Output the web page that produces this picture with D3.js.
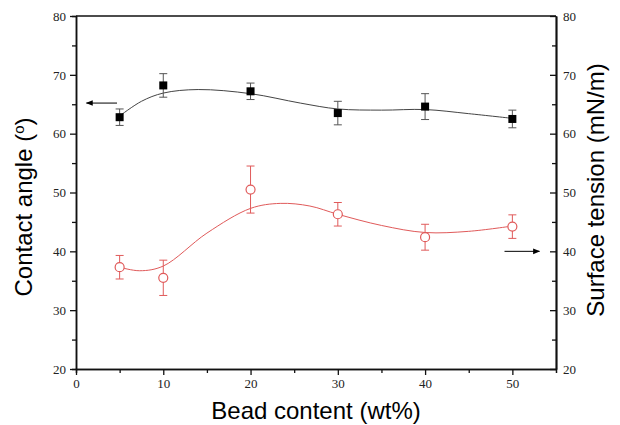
<!DOCTYPE html>
<html>
<head>
<meta charset="utf-8">
<script src="https://cdn.jsdelivr.net/npm/d3@7"></script>
<style>
  body { margin: 0; background: #fff; }
  .tick text { font-family: "Liberation Serif", "Times New Roman", serif; font-size: 13px; fill: #222; }
  .title { font-family: "Liberation Sans", Arial, sans-serif; font-size: 24px; fill: #000; }
</style>
</head>
<body>
<div id="chart"></div>
<script>
// bead content (wt%)
var beadContent = [5, 10, 20, 30, 40, 50];

// contact angle (deg) and its error
var contactAngle = [62.8, 68.2, 67.2, 63.5, 64.6, 62.5];
var contactErr = [1.4, 2.0, 1.4, 2.0, 2.2, 1.5];

// surface tension (mN/m) and its error
var surfTension = [37.3, 35.5, 50.5, 46.3, 42.4, 44.2];
var surfErr = [2.0, 3.0, 4.0, 2.0, 2.2, 2.0];

// fitted curves
var contactFitX = [5, 7.5, 10, 14, 20, 25.7, 30, 35, 40, 45, 50];
var contactFitY = [63.0, 65.5, 66.9, 67.5, 66.8, 65.2, 64.2, 64.0, 64.1, 63.4, 62.6];
var surfFitX = [5, 7.3, 10, 15, 20, 23.4, 26.8, 30, 35, 40, 45, 50];
var surfFitY = [37.3, 36.7, 37.5, 43.1, 47.3, 48.15, 47.7, 46.3, 44.4, 43.2, 43.4, 44.3];

var xTicks = [0, 10, 20, 30, 40, 50];
var yTicks = [20, 30, 40, 50, 60, 70, 80];

var width = 620, height = 425;
var padL = 76, padR = 556, padT = 16, padB = 369;
var red = "#e05a5a";

var svg = d3.select("#chart").append("svg")
  .attr("width", width)
  .attr("height", height);

var x = d3.scaleLinear().domain([0, 55]).range([padL, padR]);
var y = d3.scaleLinear().domain([20, 80]).range([padB, padT]);

// arrowhead
svg.append("defs").append("marker")
  .attr("id", "head")
  .attr("viewBox", "0 0 10 10")
  .attr("refX", 9).attr("refY", 5)
  .attr("markerWidth", 9).attr("markerHeight", 7)
  .attr("markerUnits", "userSpaceOnUse")
  .attr("orient", "auto")
  .append("path").attr("d", "M0,1 L10,5 L0,9 Z").attr("fill", "#000");

// frame top line
svg.append("line")
  .attr("x1", padL).attr("x2", padR).attr("y1", padT).attr("y2", padT)
  .attr("stroke", "#111").attr("stroke-width", 1.5);

// Axes
function styleAxis(g) {
  g.select(".domain").attr("stroke", "#111").attr("stroke-width", 1.5);
  g.selectAll(".tick line").attr("stroke", "#111").attr("stroke-width", 1.3);
}

// minor ticks
var minor = d3.range(5, 55, 10);
var minorY = d3.range(25, 80, 10);

svg.append("g")
  .attr("transform", "translate(0," + padB + ")")
  .call(d3.axisBottom(x).tickValues(minor).tickSize(4).tickFormat(""))
  .call(styleAxis);
svg.append("g")
  .attr("transform", "translate(0," + padB + ")")
  .call(d3.axisBottom(x).tickValues(xTicks).tickSize(6).tickSizeOuter(0).tickPadding(4).tickFormat(d3.format("d")))
  .call(styleAxis);

svg.append("g")
  .attr("transform", "translate(" + padL + ",0)")
  .call(d3.axisLeft(y).tickValues(minorY).tickSize(4).tickFormat(""))
  .call(styleAxis);
svg.append("g")
  .attr("transform", "translate(" + padL + ",0)")
  .call(d3.axisLeft(y).tickValues(yTicks).tickSize(6).tickSizeOuter(0).tickPadding(4).tickFormat(d3.format("d")))
  .call(styleAxis);

svg.append("g")
  .attr("transform", "translate(" + padR + ",0)")
  .call(d3.axisRight(y).tickValues(yTicks).tickSize(0).tickSizeOuter(0).tickPadding(7).tickFormat(d3.format("d")))
  .call(styleAxis);
svg.append("g")
  .attr("transform", "translate(" + padR + ",0)")
  .call(d3.axisLeft(y).tickValues(yTicks).tickSize(6).tickSizeOuter(0).tickFormat(""))
  .call(styleAxis);
svg.append("g")
  .attr("transform", "translate(" + padR + ",0)")
  .call(d3.axisLeft(y).tickValues(minorY).tickSize(4).tickSizeOuter(0).tickFormat(""))
  .call(styleAxis);

// fitted curves
var line = d3.line().curve(d3.curveCatmullRom.alpha(0.5))
  .x(function(d) { return x(d[0]); })
  .y(function(d) { return y(d[1]); });

svg.append("path")
  .datum(d3.zip(contactFitX, contactFitY))
  .attr("d", line)
  .attr("fill", "none").attr("stroke", "#444").attr("stroke-width", 1);

svg.append("path")
  .datum(d3.zip(surfFitX, surfFitY))
  .attr("d", line)
  .attr("fill", "none").attr("stroke", red).attr("stroke-width", 1);

// error bars
function errorBars(vals, errs, color) {
  var g = svg.append("g").attr("stroke", color).attr("stroke-width", 1);
  beadContent.forEach(function(b, i) {
    var cx = x(b);
    var y1 = y(vals[i] + errs[i]), y2 = y(vals[i] - errs[i]);
    g.append("line").attr("x1", cx).attr("x2", cx).attr("y1", y1).attr("y2", y2);
    g.append("line").attr("x1", cx - 4).attr("x2", cx + 4).attr("y1", y1).attr("y2", y1);
    g.append("line").attr("x1", cx - 4).attr("x2", cx + 4).attr("y1", y2).attr("y2", y2);
  });
}
errorBars(contactAngle, contactErr, "#555");
errorBars(surfTension, surfErr, red);

// markers
svg.append("g").selectAll("rect")
  .data(beadContent)
  .enter().append("rect")
  .attr("x", function(d) { return x(d) - 4; })
  .attr("y", function(d, i) { return y(contactAngle[i]) - 4; })
  .attr("width", 8).attr("height", 8)
  .attr("fill", "#000");

svg.append("g").selectAll("circle")
  .data(beadContent)
  .enter().append("circle")
  .attr("cx", function(d) { return x(d); })
  .attr("cy", function(d, i) { return y(surfTension[i]); })
  .attr("r", 4.5)
  .attr("fill", "#fff").attr("stroke", red).attr("stroke-width", 1.2);

// arrows pointing at the axes
svg.append("line")
  .attr("x1", x(4.7)).attr("x2", x(1.2))
  .attr("y1", y(65.2)).attr("y2", y(65.2))
  .attr("stroke", "#000").attr("stroke-width", 1)
  .attr("marker-end", "url(#head)");
svg.append("line")
  .attr("x1", x(49.1)).attr("x2", x(53.1))
  .attr("y1", y(40.0)).attr("y2", y(40.0))
  .attr("stroke", "#000").attr("stroke-width", 1)
  .attr("marker-end", "url(#head)");

// titles
svg.append("text").attr("class", "title")
  .attr("x", 316).attr("y", 419)
  .attr("text-anchor", "middle")
  .text("Bead content (wt%)");

var lt = svg.append("text").attr("class", "title")
  .attr("transform", "translate(32,207)rotate(-90)")
  .attr("text-anchor", "middle");
lt.append("tspan").text("Contact angle (");
lt.append("tspan").attr("font-size", "15px").attr("dy", -8).text("o");
lt.append("tspan").attr("dy", 8).text(")");

svg.append("text").attr("class", "title")
  .attr("transform", "translate(604,190)rotate(-90)")
  .attr("text-anchor", "middle")
  .text("Surface tension (mN/m)");
</script>
</body>
</html>
